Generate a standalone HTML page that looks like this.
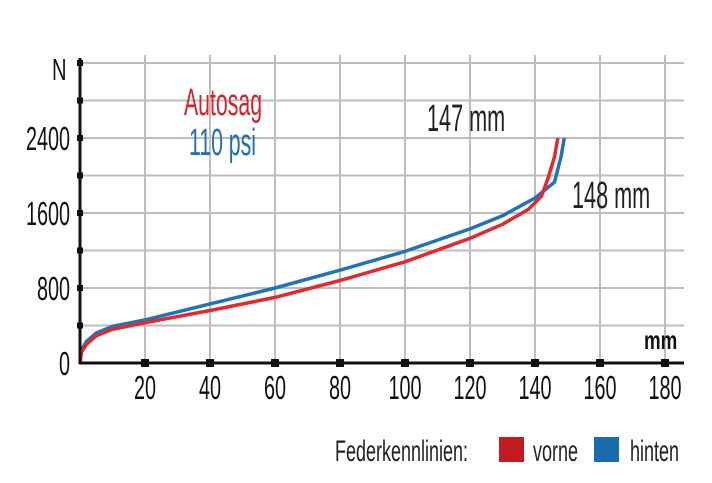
<!DOCTYPE html>
<html><head><meta charset="utf-8"><style>
body{margin:0;background:#fff}
svg{display:block}
text{font-family:"Liberation Sans",sans-serif}
</style></head><body>
<svg id="chart" width="712" height="483" viewBox="0 0 712 483">
<g id="grid"></g>
<g id="series"></g>
<g id="axes"></g>
<text x="52" y="80" font-size="31" fill="#111" transform="translate(52,80) scale(0.65,1) translate(-52,-80)">N</text>
<text x="644" y="349" font-size="26" font-weight="bold" fill="#111" transform="translate(644,349) scale(0.72,1) translate(-644,-349)">mm</text>
<text x="184" y="115" font-size="38" fill="#d0262b" transform="translate(184,115) scale(0.56,1) translate(-184,-115)">Autosag</text>
<text x="189" y="155" font-size="38" fill="#1f6fb2" transform="translate(189,155) scale(0.56,1) translate(-189,-155)">110 psi</text>
<text x="427" y="131" font-size="38" fill="#222" transform="translate(427,131) scale(0.57,1) translate(-427,-131)">147 mm</text>
<text x="572" y="208" font-size="38" fill="#222" transform="translate(572,208) scale(0.57,1) translate(-572,-208)">148 mm</text>
<g font-size="30" fill="#222">
<text x="335" y="461" transform="translate(335,461) scale(0.6,1) translate(-335,-461)">Federkennlinien:</text>
<rect x="499" y="437" width="25" height="25" fill="#c41a22"/>
<text x="533" y="461" transform="translate(533,461) scale(0.6,1) translate(-533,-461)">vorne</text>
<rect x="594" y="437" width="25" height="25" fill="#1a6cad"/>
<text x="630" y="461" transform="translate(630,461) scale(0.6,1) translate(-630,-461)">hinten</text>
</g>
</svg>
<script>
const xTicks=[20,40,60,80,100,120,140,160,180];
const yTickLabels=[0,800,1600,2400];
const frontX=[0,0.5,2,5,10,20,40,60,80,100,120,130,138,142,144,146,147];
const frontY=[0,120,200,290,360,430,560,700,880,1080,1330,1480,1640,1780,1970,2200,2400];
const rearX=[0,0.5,2,5,10,20,40,60,80,100,120,130,140,146,148,149];
const rearY=[80,140,230,320,390,460,630,800,990,1190,1430,1570,1760,1930,2200,2400];
const NS="http://www.w3.org/2000/svg";
const X0=80,Y0=363;
function sx(v){return X0+v*3.25;}
function sy(v){return Y0-v*75/800;}
function mk(tag,attrs,parent){const e=document.createElementNS(NS,tag);for(const k in attrs)e.setAttribute(k,attrs[k]);parent.appendChild(e);return e;}
const grid=document.getElementById('grid'),axes=document.getElementById('axes'),series=document.getElementById('series');
for(let v=400;v<=3200;v+=400){
 const l=mk('line',{x1:X0,x2:684,y1:sy(v),y2:sy(v),stroke:'#bdbdbd','stroke-width':2},grid);
 
 
}
xTicks.forEach(v=>{
 const l=mk('line',{x1:sx(v),x2:sx(v),y1:55,y2:Y0,stroke:'#bdbdbd','stroke-width':2},grid);
 
 
 const t=mk('text',{x:sx(v),y:399,'font-size':33,'text-anchor':'middle',fill:'#111',transform:`translate(${sx(v)},399) scale(0.6,1) translate(${-sx(v)},-399)`},axes);
 t.textContent=v;
 
 
 const m=mk('rect',{x:sx(v)-4,y:Y0-4,width:8,height:8,fill:'#111'},axes);
 
 
});
for(let v=400;v<=3200;v+=400){
 const m=mk('rect',{x:X0-3,y:sy(v)-3,width:6,height:6,fill:'#111'},axes);
 
 
}
yTickLabels.forEach(v=>{
 const y=sy(v)+12;
 const t=mk('text',{x:70,y:y,'font-size':33,'text-anchor':'end',fill:'#111',transform:`translate(70,${y}) scale(0.6,1) translate(-70,${-y})`},axes);
 t.textContent=v;
 
 
});
const ya=mk('line',{x1:X0,x2:X0,y1:58,y2:Y0+1,stroke:'#111','stroke-width':3},axes);


const xa=mk('line',{x1:X0-1,x2:684,y1:Y0,y2:Y0,stroke:'#111','stroke-width':3},axes);


function path(xs,ys){return xs.map((x,i)=>(i?'L':'M')+sx(x).toFixed(1)+' '+sy(ys[i]).toFixed(1)).join(' ');}
const rp=mk('path',{d:path(rearX,rearY),fill:'none',stroke:'#1f73b7','stroke-width':3.5,'stroke-linejoin':'round'},series);


const fp=mk('path',{d:path(frontX,frontY),fill:'none',stroke:'#e8262b','stroke-width':3.5,'stroke-linejoin':'round'},series);


</script>
</body></html>
